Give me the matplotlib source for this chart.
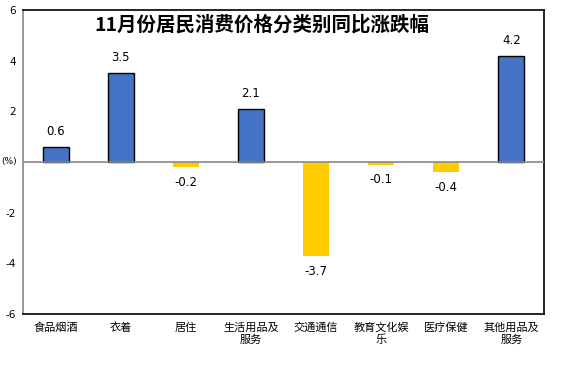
import matplotlib
matplotlib.use("Agg")
import matplotlib.pyplot as plt

plt.rcParams['font.family'] = ['Noto Sans CJK SC', 'DejaVu Sans']

categories = ["食品烟酒", "衣着", "居住", "生活用品及\n服务", "交通通信", "教育文化娱\n乐", "医疗保健", "其他用品及\n服务"]
values = [0.6, 3.5, -0.2, 2.1, -3.7, -0.1, -0.4, 4.2]
yticks = [-6, -4, -2, 0, 2, 4, 6]
title = "11月份居民消费价格分类别同比涨跌幅"

fig = plt.figure(figsize=(5.75, 3.74), dpi=100)
ax = fig.add_axes([0.04, 0.1604, 0.906, 0.813])

x = list(range(len(values)))
for xi, v in zip(x, values):
    if v >= 0:
        ax.bar(xi, v, width=0.4, color="#4472C4", edgecolor="black", linewidth=1, zorder=2)
        ax.text(xi, v + 0.35, f"{v:.1f}", ha="center", va="bottom", fontsize=8.5, family=['DejaVu Sans'])
    else:
        ax.bar(xi, v, width=0.4, color="#FFCC00", edgecolor="none", zorder=2)
        ax.text(xi, v - 0.35, f"{v:.1f}", ha="center", va="top", fontsize=8.5, family=['DejaVu Sans'])

ax.axhline(0, color="#888888", linewidth=1.2, zorder=3)
ax.set_xlim(-0.5, len(values) - 0.5)
ax.set_ylim(-6, 6)
ax.set_yticks(yticks)
ax.set_yticklabels([str(t) if t != 0 else "" for t in yticks], fontsize=7.5, family=['DejaVu Sans'])
ax.set_xticks(x)
ax.set_xticklabels(categories, fontsize=8, linespacing=1.25, va="top")
ax.tick_params(axis="both", length=0, pad=5)
ax.tick_params(axis="x", pad=6)

for s in ["top", "right", "bottom"]:
    ax.spines[s].set_color("black")
    ax.spines[s].set_linewidth(1.2)
ax.spines["left"].set_color("#888888")
ax.spines["left"].set_linewidth(1.2)

ax.text(-0.012, 0.5, "(%)", transform=ax.transAxes, ha="right", va="center", fontsize=6.5, family=['DejaVu Sans'])
ax.text(0.459, 0.985, title, transform=ax.transAxes, ha="center", va="top", fontsize=14, fontweight="bold")

fig.savefig("out.png", dpi=100)
